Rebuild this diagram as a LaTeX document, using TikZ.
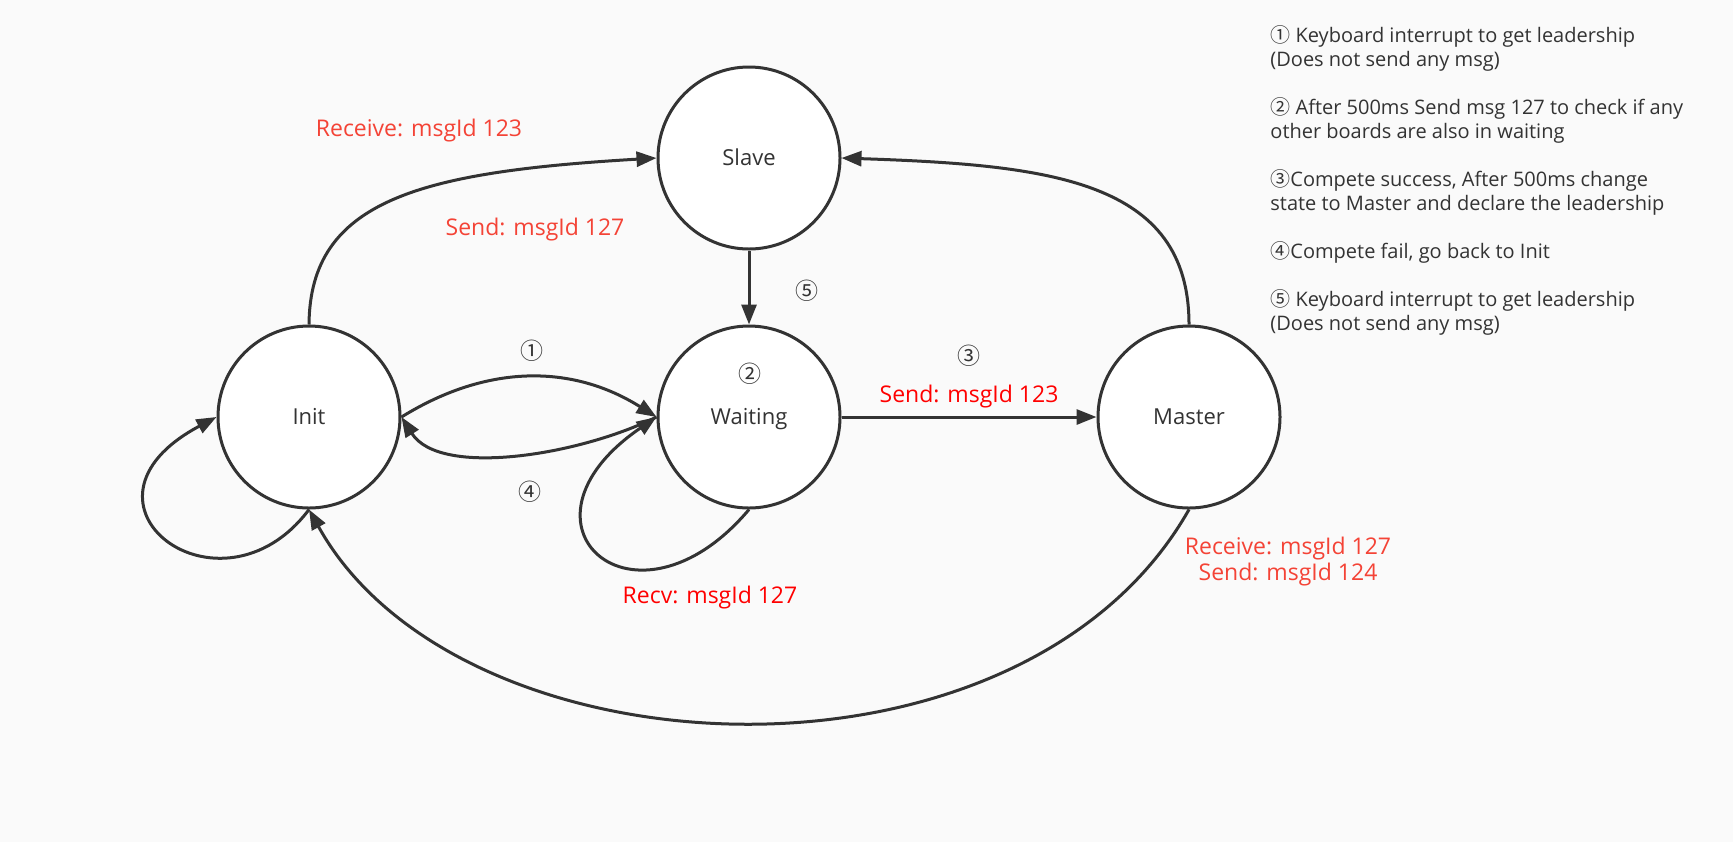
\documentclass[tikz,border=0pt]{standalone}
\usepackage{fontspec}
\setmainfont{Open Sans}
\newfontfamily\cjk{Noto Sans CJK SC}
\usetikzlibrary{arrows.meta}
\definecolor{bg}{RGB}{250,250,250}
\definecolor{ink}{RGB}{51,51,51}
\definecolor{lred}{RGB}{244,67,54}
\definecolor{pred}{RGB}{255,0,0}
\begin{document}
\begin{tikzpicture}[x=0.5pt,y=-0.5pt,
  state/.style={circle, draw=ink, fill=white, line width=1.5pt, minimum size=91pt,
    inner sep=0pt, text=ink, font=\fontsize{11pt}{13pt}\selectfont,
    text height=7.9pt, text depth=0pt},
  edge/.style={draw=ink, line width=1.5pt, -{Triangle[length=10pt,width=7.5pt]}},
  lbl/.style={anchor=base, inner sep=0pt, font=\fontsize{11.5pt}{13pt}\selectfont},
  num/.style={anchor=base, inner sep=0pt, text=ink, font=\cjk\fontsize{11.5pt}{13pt}\selectfont},
  notes/.style={anchor=base west, inner sep=0pt, align=left, text=ink,
    font=\fontsize{10pt}{12pt}\selectfont}
]
\fill[bg] (0,0) rectangle (1733,842);
\useasboundingbox (0,0) rectangle (1733,842);

\node[state] (init) at (309,417) {Init};
\node[state] (wait) at (749,417) {Waiting};
\node[state] (slave) at (749,158) {Slave};
\node[state] (master) at (1189,417) {Master};

\draw[edge] (init.north) .. controls (310,200) and (420,172) .. (slave.west);
\draw[edge] (master.north) .. controls (1189,180) and (1050,165) .. (slave.east);
\draw[edge] (slave.south) -- (wait.north);
\draw[edge] (init.east) .. controls (487,364) and (572,364) .. (wait.west);
\draw[edge] (wait.west) .. controls (580,455) and (440,478) .. (init.east);
\draw[edge] (wait.east) -- (master.west);
\draw[edge] (wait.south) .. controls (634.5,645) and (499.5,524.5) .. (wait.west);
\draw[edge] (init.south) .. controls (220,628) and (55,503) .. (init.west);
\draw[edge] (master.south) .. controls (1021,806) and (459,780) .. (init.south);

\node[lbl, text=lred] (l1) at (419,136) {Receive: msgId 123};
\node[lbl, text=lred] (l2) at (535,235) {Send: msgId 127};
\node[lbl, text=pred] (l3) at (969,402) {Send: msgId 123};
\node[lbl, text=pred] (l4) at (710,603) {Recv: msgId 127};
\node[lbl, text=lred] (l5) at (1288,554) {Receive: msgId 127};
\node[lbl, text=lred] (l6) at (1288,580) {Send: msgId 124};

\node[num] (n1) at (532,359) {①};
\node[num] (n2) at (750,382) {②};
\node[num] (n3) at (969,364) {③};
\node[num] (n4) at (530,500) {④};
\node[num] (n5) at (807,299) {⑤};

\node[notes] (notes) at (1270,330) {{\cjk ①} Keyboard interrupt to get leadership\\
(Does not send any msg)\\[12pt]
{\cjk ②} After 500ms Send msg 127 to check if any\\
other boards are also in waiting\\[12pt]
{\cjk ③}Compete success, After 500ms change\\
state to Master and declare the leadership\\[12pt]
{\cjk ④}Compete fail, go back to Init\\[12pt]
{\cjk ⑤} Keyboard interrupt to get leadership\\
(Does not send any msg)};
\end{tikzpicture}
\end{document}
